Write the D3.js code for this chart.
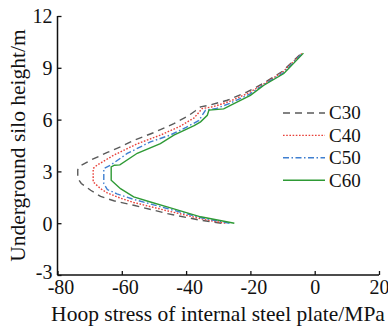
<!DOCTYPE html>
<html><head><meta charset="utf-8">
<script src="https://cdn.jsdelivr.net/npm/d3@7"></script>
<style>body{margin:0;background:#fff}svg{display:block}text{font-family:"Liberation Serif","Times New Roman",serif;fill:#111}</style>
</head><body><svg id="c" width="388" height="327"></svg>
<script>
const xTicks = [-80, -60, -40, -20, 0, 20];
const yTicks = [-3, 0, 3, 6, 9, 12];
const seriesNames = ["C30", "C40", "C50", "C60"];

const c30Stress = [-29.0,-35.5,-45.9,-56.3,-62.5,-66.6,-69.7,-72.6,-73.7,-73.7,-72.6,-69.7,-64.5,-60.4,-56.3,-50.0,-43.8,-39.5,-37.2,-35.5,-32.4,-27.2,-21.0,-15.5,-10.0,-4.3];
const c30Height = [0,0.17,0.56,1.04,1.30,1.55,1.91,2.3,2.6,3.1,3.35,3.65,4.1,4.42,4.8,5.25,5.77,6.2,6.5,6.74,6.85,7.12,7.6,8.15,8.8,9.82];

const c40Stress = [-27.8,-34.5,-45.9,-56.3,-60.4,-64.5,-66.6,-68.9,-68.9,-67.7,-62.5,-55.2,-48.0,-42.0,-37.5,-35.0,-31.5,-26.5,-20.5,-15.5,-10.0,-4.0];
const c40Height = [0,0.22,0.72,1.2,1.45,1.75,2.0,2.39,3.17,3.36,3.94,4.6,5.1,5.6,6.1,6.64,6.75,7.05,7.55,8.1,8.75,9.83];

const c50Stress = [-26.5,-35.0,-45.9,-56.3,-61.5,-64.5,-65.6,-65.6,-63.5,-58.3,-51.1,-45.0,-40.0,-36.0,-34.0,-30.5,-26.3,-20.2,-15.6,-9.8,-3.8];
const c50Height = [0,0.3,0.85,1.38,1.7,1.95,2.3,3.17,3.36,4.04,4.71,5.1,5.55,5.95,6.54,6.65,6.95,7.48,8.05,8.7,9.84];

const c60Stress = [-25.0,-35.5,-45.9,-51.1,-56.3,-60.4,-63.3,-63.3,-62.3,-60.6,-55.2,-48.0,-43.8,-37.5,-35.5,-33.4,-32.9,-31.0,-28.3,-26.2,-20.0,-15.8,-9.6,-3.5];
const c60Height = [0,0.37,0.95,1.23,1.52,2.0,2.49,3.26,3.36,3.38,4.05,4.61,5.10,5.65,5.87,6.25,6.55,6.58,6.62,6.83,7.4,7.99,8.67,9.85];

const stressSets = [c30Stress, c40Stress, c50Stress, c60Stress];
const heightSets = [c30Height, c40Height, c50Height, c60Height];
const colors = ["#5a5a5a", "#e8413a", "#3f7fd0", "#2e9a35"];
const dashes = ["7,5", "1.6,1.6", "6,2.5,1.5,2.5", null];
const FONT = '"Liberation Serif","Times New Roman",serif';

const svg = d3.select("#c");
const x = d3.scaleLinear().domain([-80, 20]).range([57.5, 379]);
const y = d3.scaleLinear().domain([-3, 12]).range([275, 16]);

// axes
const fmt = d => String(d);
const xAxis = d3.axisBottom(x).tickValues(xTicks).tickSize(-4).tickPadding(5).tickFormat(fmt);
const gx = svg.append("g").attr("transform", `translate(0,${y(-3)})`).call(xAxis);
gx.select(".domain").attr("d", `M${x(-80)},0H${x(20)}`);
const yAxis = d3.axisLeft(y).tickValues(yTicks).tickSize(-4).tickPadding(5).tickFormat(fmt);
const gy = svg.append("g").attr("transform", `translate(${x(-80)},0)`).call(yAxis);
gy.select(".domain").attr("d", `M0,${y(-3)}V${y(12)}`);
[gx, gy].forEach(g => {
  g.attr("font-family", FONT).attr("font-size", 20);
  g.selectAll(".domain").attr("stroke", "#111").attr("stroke-width", 1.5);
  g.selectAll(".tick line").attr("stroke", "#111").attr("stroke-width", 1.3);
  g.selectAll(".tick text").attr("font-family", FONT).attr("font-size", 20).attr("fill", "#111");
});
gx.selectAll(".tick text").attr("dx", d => d < 0 ? 3 : 0).attr("dy", "0.68em");
gy.selectAll(".tick text").attr("dy", d => d === -3 ? "0.18em" : "0.34em");

// titles
svg.append("text").attr("x", 218).attr("y", 321).attr("text-anchor", "middle")
  .attr("font-family", FONT).attr("font-size", 21.5).text("Hoop stress of internal steel plate/MPa");
svg.append("text").attr("transform", `translate(25,${y(4.5)}) rotate(-90)`).attr("text-anchor", "middle")
  .attr("font-family", FONT).attr("font-size", 21.5).text("Underground silo height/m");

// lines
const line = d3.line().x(d => x(d[0])).y(d => y(d[1]));
seriesNames.forEach((name, i) => {
  const pts = stressSets[i].map((s, j) => [s, heightSets[i][j]]);
  svg.append("path").datum(pts).attr("d", line).attr("fill", "none")
    .attr("stroke", colors[i]).attr("stroke-width", 1.4)
    .attr("stroke-dasharray", dashes[i]);
});

// legend
const lg = svg.append("g");
seriesNames.forEach((name, i) => {
  const yy = 113 + i * 22.4;
  lg.append("line").attr("x1", 283).attr("x2", 325).attr("y1", yy).attr("y2", yy)
    .attr("stroke", colors[i]).attr("stroke-width", 1.4).attr("stroke-dasharray", dashes[i]);
  lg.append("text").attr("x", 329).attr("y", yy).attr("dy", "0.34em")
    .attr("font-family", FONT).attr("font-size", 19).text(name);
});
</script></body></html>
